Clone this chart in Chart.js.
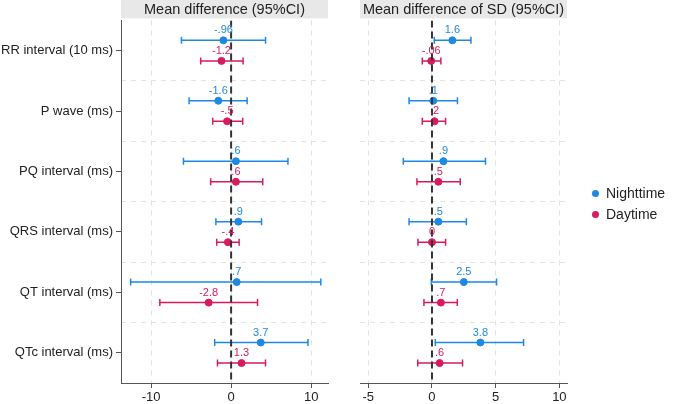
<!DOCTYPE html>
<html>
<head>
<meta charset="utf-8">
<script src="https://cdn.jsdelivr.net/npm/chart.js@4"></script>
<style>
  body { margin: 0; background: #fff; }
  #wrap { position: relative; width: 675px; height: 404px; font-family: "Liberation Sans", Arial, sans-serif; }
  canvas { position: absolute; top: 0; }
  #legend { position: absolute; left: 592px; top: 183px; font-size: 14px; color: #222; }
  #legend div { height: 20.5px; line-height: 20.5px; white-space: nowrap; }
  #legend span { display: inline-block; width: 7px; height: 7px; border-radius: 50%; margin-right: 7px; vertical-align: 1px; }
</style>
</head>
<body>
<div id="wrap">
  <canvas id="meanChart" width="340" height="404" style="left:0"></canvas>
  <canvas id="sdChart" width="335" height="404" style="left:340px"></canvas>
  <div id="legend">
    <div><span style="background:#1E88E5"></span>Nighttime</div>
    <div><span style="background:#D81B60"></span>Daytime</div>
  </div>
</div>
<script>
const categories = ['RR interval (10 ms)', 'P wave (ms)', 'PQ interval (ms)', 'QRS interval (ms)', 'QT interval (ms)', 'QTc interval (ms)'];

// Mean difference (95%CI)
const meanNight   = [-0.96, -1.6, 0.6, 0.9, 0.7, 3.7];
const meanNightLo = [-6.2, -5.25, -5.95, -1.9, -12.55, -2.05];
const meanNightHi = [4.3, 2.0, 7.1, 3.8, 11.2, 9.6];
const meanDay     = [-1.2, -0.5, 0.6, -0.4, -2.8, 1.3];
const meanDayLo   = [-3.8, -2.3, -2.55, -1.8, -8.9, -1.7];
const meanDayHi   = [1.5, 1.45, 3.95, 1.0, 3.3, 4.3];

// Mean difference of SD (95%CI)
const sdNight   = [1.6, 0.1, 0.9, 0.5, 2.5, 3.8];
const sdNightLo = [0.18, -1.8, -2.25, -1.8, -0.05, 0.26];
const sdNightHi = [3.06, 2.0, 4.2, 2.7, 5.07, 7.19];
const sdDay     = [-0.06, 0.2, 0.5, 0, 0.7, 0.6];
const sdDayLo   = [-0.76, -0.76, -1.18, -1.1, -0.63, -1.12];
const sdDayHi   = [0.7, 1.07, 2.22, 1.07, 1.99, 2.4];

const xTicksMean = [-10, 0, 10];
const xTicksSd = [-5, 0, 5, 10];

const blue = '#1E88E5';
const red = '#D81B60';
const font = '"Liberation Sans", Arial, sans-serif';

// stata style number: -.96, .6, 0
function fmt(v) {
  return String(v).replace(/^(-?)0\./, '$1.');
}

function points(vals, off) {
  return vals.map((v, i) => ({ x: v, y: i + off }));
}

function ciLines(lo, hi, off) {
  const out = [];
  lo.forEach((l, i) => {
    out.push({ x: l, y: i + off }, { x: hi[i], y: i + off }, { x: null, y: null });
  });
  return out;
}

const headerBand = {
  id: 'headerBand',
  beforeDraw(chart) {
    const a = chart.chartArea;
    const ctx = chart.ctx;
    ctx.save();
    ctx.fillStyle = '#e8e8e8';
    ctx.fillRect(a.left, 0, a.right - a.left, a.top - 2);
    ctx.restore();
  }
};

const pointLabels = {
  id: 'pointLabels',
  afterDatasetsDraw(chart) {
    const ctx = chart.ctx;
    ctx.save();
    ctx.font = '11px ' + font;
    ctx.textAlign = 'center';
    ctx.textBaseline = 'middle';
    chart.data.datasets.forEach((ds, di) => {
      if (!ds.labelled) return;
      ctx.fillStyle = ds.backgroundColor;
      chart.getDatasetMeta(di).data.forEach((el, i) => {
        ctx.fillText(fmt(ds.data[i].x), el.x, el.y - 10);
      });
    });
    ctx.restore();
  }
};

function makeChart(id, title, night, nLo, nHi, day, dLo, dHi, xMin, xMax, xTicks, showCats, padding) {
  const ctx = document.getElementById(id).getContext('2d');
  return new Chart(ctx, {
    type: 'scatter',
    data: {
      datasets: [
        { data: [{ x: 0, y: -0.5 }, { x: 0, y: 5.5 }], showLine: true, borderColor: '#333', borderWidth: 2,
          borderDash: [7, 4], pointRadius: 0 },
        { data: ciLines(nLo, nHi, -0.17), showLine: true, spanGaps: false, borderColor: blue, borderWidth: 1.5,
          pointStyle: 'line', rotation: 90, pointRadius: 3.5, pointBorderWidth: 1.5, pointBorderColor: blue },
        { data: ciLines(dLo, dHi, 0.17), showLine: true, spanGaps: false, borderColor: red, borderWidth: 1.5,
          pointStyle: 'line', rotation: 90, pointRadius: 3.5, pointBorderWidth: 1.5, pointBorderColor: red },
        { data: points(night, -0.17), labelled: true, backgroundColor: blue, borderColor: blue, pointRadius: 3.5 },
        { data: points(day, 0.17), labelled: true, backgroundColor: red, borderColor: red, pointRadius: 3.5 }
      ]
    },
    options: {
      responsive: false,
      animation: false,
      devicePixelRatio: 1,
      layout: { padding: padding },
      plugins: {
        legend: { display: false },
        tooltip: { enabled: false },
        title: {
          display: true, text: title, fullSize: false, color: '#222',
          font: { family: font, size: 14.5, weight: 'normal' },
          padding: { top: 1, bottom: 2 }
        }
      },
      scales: {
        x: {
          type: 'linear', min: xMin, max: xMax,
          afterBuildTicks: s => { s.ticks = xTicks.map(v => ({ value: v })); },
          afterFit: s => { s.height = 21; },
          ticks: { color: '#222', font: { family: font, size: 13 }, padding: 2, maxRotation: 0 },
          grid: { color: '#e2e2e2', tickLength: 5, tickColor: '#555' },
          border: { color: '#555', dash: [5, 5] }
        },
        y: {
          type: 'linear', reverse: true, min: -0.5, max: 5.5,
          display: showCats,
          afterBuildTicks: s => { s.ticks = categories.map((c, i) => ({ value: i })); },
          afterFit: s => { s.width = showCats ? 121 : 0; },
          ticks: { color: '#222', font: { family: font, size: 13 }, padding: 3,
            callback: v => categories[v] },
          grid: { drawOnChartArea: false, tickLength: 5, tickColor: '#555' },
          border: { color: '#555' }
        },
        yg: {
          type: 'linear', reverse: true, min: -0.5, max: 5.5, position: 'left',
          afterBuildTicks: s => { s.ticks = [0.5, 1.5, 2.5, 3.5, 4.5].map(v => ({ value: v })); },
          afterFit: s => { s.width = 0; },
          ticks: { display: false },
          grid: { color: '#e2e2e2', drawTicks: false },
          border: { display: false, dash: [5, 5] }
        }
      }
    },
    plugins: [headerBand, pointLabels]
  });
}

const meanChart = makeChart('meanChart', 'Mean difference (95%CI)',
  meanNight, meanNightLo, meanNightHi, meanDay, meanDayLo, meanDayHi,
  -13.75, 12.1, xTicksMean, true, { left: 0, right: 12, top: 0, bottom: 0 });

const sdChart = makeChart('sdChart', 'Mean difference of SD (95%CI)',
  sdNight, sdNightLo, sdNightHi, sdDay, sdDayLo, sdDayHi,
  -5.65, 10.6, xTicksSd, false, { left: 20, right: 108, top: 0, bottom: 0 });
</script>
</body>
</html>
